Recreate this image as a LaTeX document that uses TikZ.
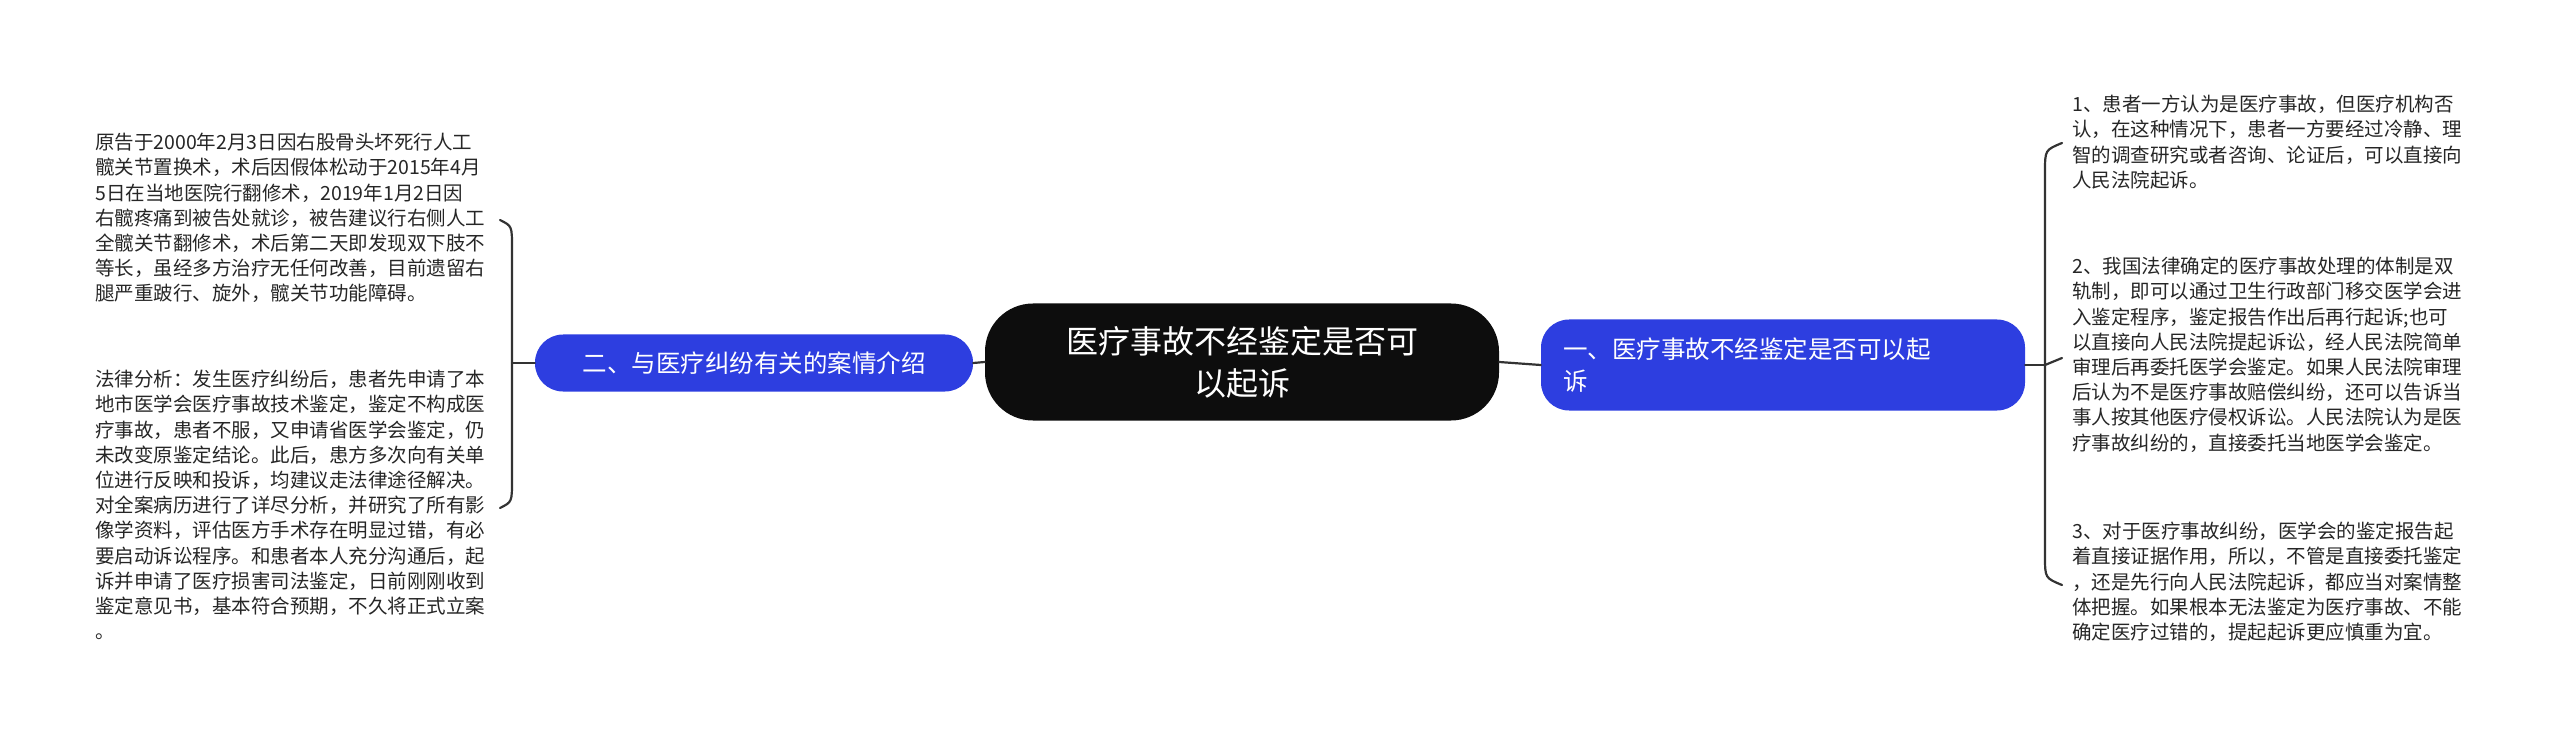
\documentclass[tikz,border=0pt]{standalone}
\usepackage{fontspec}
\setmainfont{Noto Sans CJK SC}
\definecolor{nb}{RGB}{45,62,224}
\begin{document}
\begin{tikzpicture}[x=1pt,y=-1pt,
  leaf/.style={anchor=north west,align=left,inner sep=0pt,font=\fontsize{19.5}{25.2}\selectfont,text=black!85},
  br/.style={draw=black!80,line width=2.2pt,line cap=round},
  hub/.style={fill=black!95,rounded corners=48pt,text=white,font=\fontsize{32}{42}\selectfont,align=center,minimum width=514pt,minimum height=117pt,inner sep=0pt},
  sub/.style={fill=nb,rounded corners=28pt,text=white,font=\fontsize{24.5}{32}\selectfont,inner sep=0pt}]
\useasboundingbox (0,0) rectangle (2560,743);
\node[hub] (c) at (1242,362) {医疗事故不经鉴定是否可\\以起诉};
\node[sub,minimum width=484pt,minimum height=91pt,align=left,text width=440pt] (r) at (1783,365) {一、医疗事故不经鉴定是否可以起\\诉};
\node[sub,minimum width=438pt,minimum height=57pt] (l) at (754,363) {二、与医疗纠纷有关的案情介绍};
\draw[br] (c.east) -- (r.west);
\draw[br] (c.west) -- (l.east);
\coordinate (lm) at (512,363);
\coordinate (rm) at (2045,365);
\draw[br] (l.west) -- (lm);
\draw[br] (r.east) -- (rm);
\draw[br] (500,220) .. controls (512,226) .. (512,248) -- (512,480) .. controls (512,502) .. (500,508);
\draw[br] (2062,143) .. controls (2045,150) .. (2045,172) -- (2045,556) .. controls (2045,578) .. (2062,585);
\draw[br] (rm) -- (2062,358);
\node[leaf] (t1) at (95,133) {原告于2000年2月3日因右股骨头坏死行人工\\髋关节置换术，术后因假体松动于2015年4月\\5日在当地医院行翻修术，2019年1月2日因\\右髋疼痛到被告处就诊，被告建议行右侧人工\\全髋关节翻修术，术后第二天即发现双下肢不\\等长，虽经多方治疗无任何改善，目前遗留右\\腿严重跛行、旋外，髋关节功能障碍。};
\node[leaf] (t2) at (95,370) {法律分析：发生医疗纠纷后，患者先申请了本\\地市医学会医疗事故技术鉴定，鉴定不构成医\\疗事故，患者不服，又申请省医学会鉴定，仍\\未改变原鉴定结论。此后，患方多次向有关单\\位进行反映和投诉，均建议走法律途径解决。\\对全案病历进行了详尽分析，并研究了所有影\\像学资料，评估医方手术存在明显过错，有必\\要启动诉讼程序。和患者本人充分沟通后，起\\诉并申请了医疗损害司法鉴定，日前刚刚收到\\鉴定意见书，基本符合预期，不久将正式立案\\。};
\node[leaf] (t3) at (2072,95) {1、患者一方认为是医疗事故，但医疗机构否\\认，在这种情况下，患者一方要经过冷静、理\\智的调查研究或者咨询、论证后，可以直接向\\人民法院起诉。};
\node[leaf] (t4) at (2072,257) {2、我国法律确定的医疗事故处理的体制是双\\轨制，即可以通过卫生行政部门移交医学会进\\入鉴定程序，鉴定报告作出后再行起诉;也可\\以直接向人民法院提起诉讼，经人民法院简单\\审理后再委托医学会鉴定。如果人民法院审理\\后认为不是医疗事故赔偿纠纷，还可以告诉当\\事人按其他医疗侵权诉讼。人民法院认为是医\\疗事故纠纷的，直接委托当地医学会鉴定。};
\node[leaf] (t5) at (2072,522) {3、对于医疗事故纠纷，医学会的鉴定报告起\\着直接证据作用，所以，不管是直接委托鉴定\\，还是先行向人民法院起诉，都应当对案情整\\体把握。如果根本无法鉴定为医疗事故、不能\\确定医疗过错的，提起起诉更应慎重为宜。};
\end{tikzpicture}
\end{document}
